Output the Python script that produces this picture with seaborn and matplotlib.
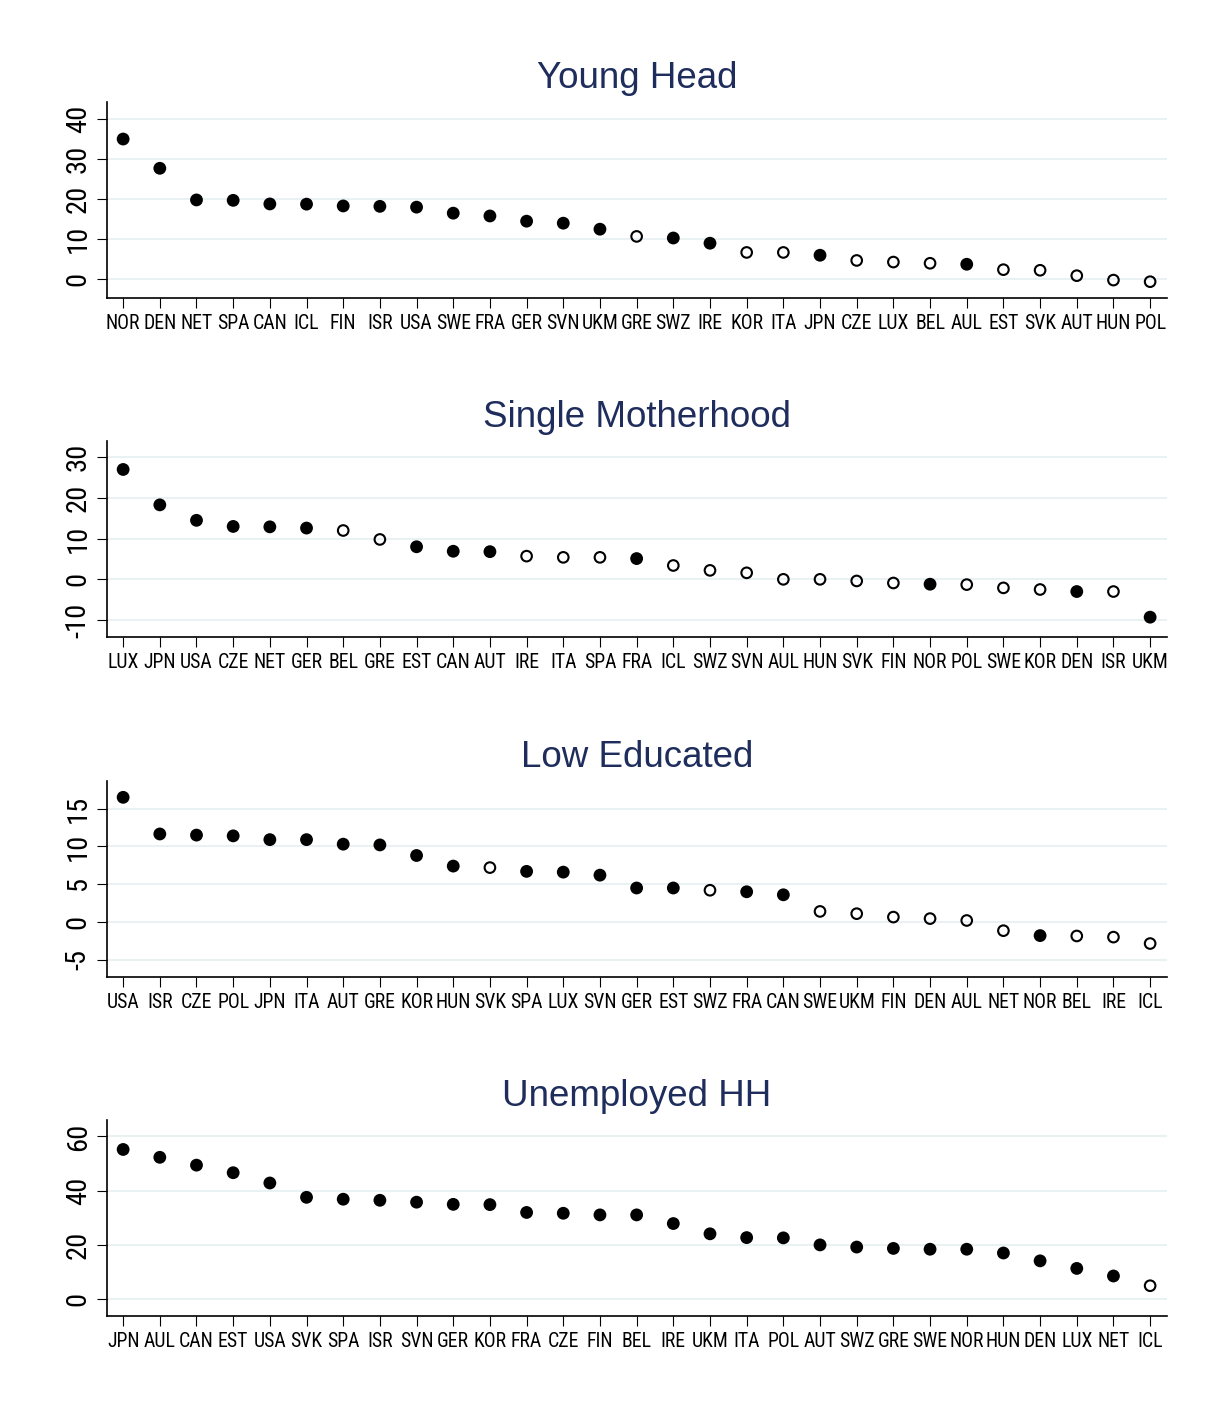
import numpy as np
import pandas as pd
import matplotlib
matplotlib.use("Agg")
import matplotlib.pyplot as plt
from matplotlib import font_manager
import seaborn as sns

# ---- data: country codes, estimates, and significance (1 = filled, 0 = hollow) ----
young_countries = ["NOR", "DEN", "NET", "SPA", "CAN", "ICL", "FIN", "ISR", "USA", "SWE",
                   "FRA", "GER", "SVN", "UKM", "GRE", "SWZ", "IRE", "KOR", "ITA", "JPN",
                   "CZE", "LUX", "BEL", "AUL", "EST", "SVK", "AUT", "HUN", "POL"]
young_values = [35.0, 27.7, 19.8, 19.7, 18.8, 18.75, 18.3, 18.2, 18.0, 16.5,
                15.8, 14.5, 14.0, 12.5, 10.7, 10.3, 9.0, 6.7, 6.7, 6.0,
                4.7, 4.3, 4.0, 3.75, 2.4, 2.25, 0.9, -0.2, -0.6]
young_signif = [1, 1, 1, 1, 1, 1, 1, 1, 1, 1,
                1, 1, 1, 1, 0, 1, 1, 0, 0, 1,
                0, 0, 0, 1, 0, 0, 0, 0, 0]

single_countries = ["LUX", "JPN", "USA", "CZE", "NET", "GER", "BEL", "GRE", "EST", "CAN",
                    "AUT", "IRE", "ITA", "SPA", "FRA", "ICL", "SWZ", "SVN", "AUL", "HUN",
                    "SVK", "FIN", "NOR", "POL", "SWE", "KOR", "DEN", "ISR", "UKM"]
single_values = [27.0, 18.3, 14.5, 13.0, 12.9, 12.6, 12.0, 9.8, 8.0, 6.9,
                 6.8, 5.7, 5.4, 5.4, 5.1, 3.4, 2.2, 1.6, 0.0, 0.0,
                 -0.4, -0.9, -1.2, -1.3, -2.1, -2.5, -3.0, -3.0, -9.3]
single_signif = [1, 1, 1, 1, 1, 1, 0, 0, 1, 1,
                 1, 0, 0, 0, 1, 0, 0, 0, 0, 0,
                 0, 0, 1, 0, 0, 0, 1, 0, 1]

loweduc_countries = ["USA", "ISR", "CZE", "POL", "JPN", "ITA", "AUT", "GRE", "KOR", "HUN",
                     "SVK", "SPA", "LUX", "SVN", "GER", "EST", "SWZ", "FRA", "CAN", "SWE",
                     "UKM", "FIN", "DEN", "AUL", "NET", "NOR", "BEL", "IRE", "ICL"]
loweduc_values = [16.5, 11.65, 11.5, 11.4, 10.9, 10.9, 10.3, 10.2, 8.8, 7.4,
                  7.2, 6.7, 6.6, 6.2, 4.5, 4.5, 4.2, 4.0, 3.6, 1.4,
                  1.1, 0.65, 0.45, 0.2, -1.15, -1.8, -1.85, -2.0, -2.85]
loweduc_signif = [1, 1, 1, 1, 1, 1, 1, 1, 1, 1,
                  0, 1, 1, 1, 1, 1, 0, 1, 1, 0,
                  0, 0, 0, 0, 0, 1, 0, 0, 0]

unemp_countries = ["JPN", "AUL", "CAN", "EST", "USA", "SVK", "SPA", "ISR", "SVN", "GER",
                   "KOR", "FRA", "CZE", "FIN", "BEL", "IRE", "UKM", "ITA", "POL", "AUT",
                   "SWZ", "GRE", "SWE", "NOR", "HUN", "DEN", "LUX", "NET", "ICL"]
unemp_values = [55.2, 52.3, 49.4, 46.6, 42.8, 37.5, 36.8, 36.4, 35.7, 34.9,
                34.8, 31.9, 31.6, 31.0, 31.0, 27.8, 24.0, 22.6, 22.5, 19.9,
                19.1, 18.6, 18.3, 18.3, 16.9, 14.0, 11.2, 8.4, 4.8]
unemp_signif = [1, 1, 1, 1, 1, 1, 1, 1, 1, 1,
                1, 1, 1, 1, 1, 1, 1, 1, 1, 1,
                1, 1, 1, 1, 1, 1, 1, 1, 0]

titles = ["Young Head", "Single Motherhood", "Low Educated", "Unemployed HH"]
yticks_list = [[0, 10, 20, 30, 40], [-10, 0, 10, 20, 30], [-5, 0, 5, 10, 15], [0, 20, 40, 60]]
ylims = [(-4.67, 44.24), (-14.1, 34.07), (-7.24, 18.7), (-6.4, 66.1)]

panels = [
    (young_countries, young_values, young_signif),
    (single_countries, single_values, single_signif),
    (loweduc_countries, loweduc_values, loweduc_signif),
    (unemp_countries, unemp_values, unemp_signif),
]

# ---- style ----
sns.set_theme(style="ticks")
installed = {f.name for f in font_manager.fontManager.ttflist}
base_font = "Liberation Sans" if "Liberation Sans" in installed else "DejaVu Sans"

# prefer a narrow sans for the tick labels when one is available
narrow_font = None
for cand in ["Liberation Sans Narrow", "Arial Narrow", "Roboto Condensed",
             "Open Sans Condensed", "Noto Sans Condensed", "DejaVu Sans Condensed"]:
    if cand in installed:
        narrow_font = cand
        break

plt.rcParams["font.family"] = [base_font, "DejaVu Sans"]
plt.rcParams["axes.unicode_minus"] = False

if narrow_font is not None:
    tick_font, xlab_size, ylab_size = narrow_font, 14.2, 20.5
else:
    tick_font, xlab_size, ylab_size = base_font, 10.8, 18

title_color = "#1e2d5c"
grid_color = "#e4eef0"

W, H = 1215, 1407
fig = plt.figure(figsize=(W / 100, H / 100), dpi=100)
fig.patch.set_facecolor("white")

left_px, right_px = 107, 1167
bottoms_px = [298, 636.7, 976.7, 1316]
height_px = 196

for i, ((countries, values, signif), title) in enumerate(zip(panels, titles)):
    ax = fig.add_axes([left_px / W, 1 - bottoms_px[i] / H,
                       (right_px - left_px) / W, height_px / H])
    df = pd.DataFrame({"pos": np.arange(len(countries)),
                       "value": values,
                       "signif": signif})
    filled = df[df["signif"] == 1]
    hollow = df[df["signif"] == 0]

    if len(filled):
        sns.scatterplot(data=filled, x="pos", y="value", ax=ax, color="black",
                        s=85, linewidth=0, edgecolor="none", zorder=3)
    if len(hollow):
        sns.scatterplot(data=hollow, x="pos", y="value", ax=ax, color="black",
                        facecolor="none", edgecolor="black", s=58, linewidth=1.5,
                        zorder=3)

    ax.set_xlim(-0.44, len(countries) - 1 + 0.46)
    ax.set_ylim(*ylims[i])
    ax.set_xticks(df["pos"], labels=countries)
    yt = yticks_list[i]
    ax.set_yticks(yt, labels=[str(v) for v in yt])
    ax.set(xlabel="", ylabel="")

    ax.set_axisbelow(True)
    ax.yaxis.grid(True, color=grid_color, linewidth=1.1)
    ax.xaxis.grid(False)

    for side in ["top", "right"]:
        ax.spines[side].set_visible(False)
    for side in ["left", "bottom"]:
        ax.spines[side].set_linewidth(1.2)
        ax.spines[side].set_color("black")

    ax.tick_params(axis="x", length=7.2, width=0.8, pad=4.5, colors="black",
                   labelsize=xlab_size, bottom=True, direction="out")
    ax.tick_params(axis="y", length=7.0, width=0.8, pad=4, colors="black",
                   labelsize=ylab_size, left=True, direction="out", labelrotation=90)
    for lab in ax.get_xticklabels():
        lab.set_fontfamily([tick_font, "DejaVu Sans"])
    for lab in ax.get_yticklabels():
        lab.set_fontfamily([tick_font, "DejaVu Sans"])
        lab.set_verticalalignment("center")

    ax.set_title(title, fontsize=26.5, color=title_color, pad=10,
                 fontfamily=[base_font, "DejaVu Sans"])

fig.savefig("out.png", dpi=100, facecolor="white")
